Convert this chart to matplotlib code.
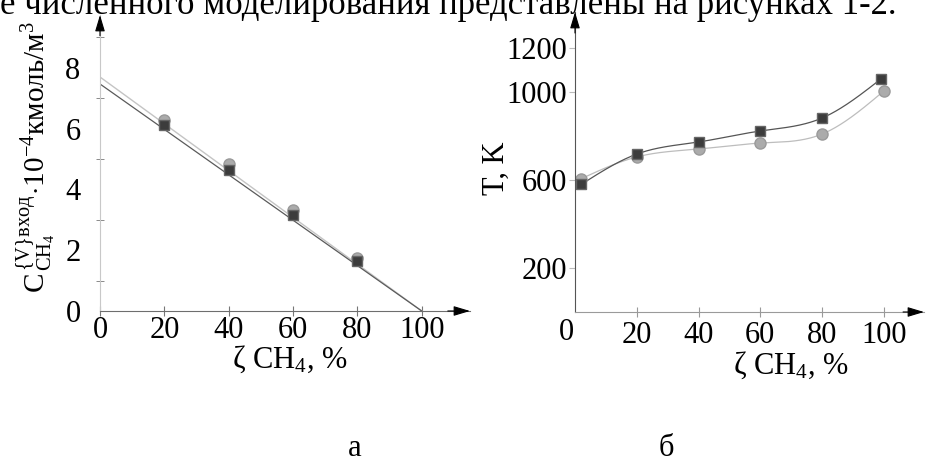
import numpy as np
import matplotlib
matplotlib.use('agg')
import matplotlib.pyplot as plt

plt.rcParams['font.family'] = ['Liberation Serif', 'DejaVu Serif']
plt.rcParams['mathtext.fontset'] = 'custom'
plt.rcParams['mathtext.rm'] = 'Liberation Serif'
plt.rcParams['mathtext.it'] = 'Liberation Serif:italic'
plt.rcParams['mathtext.bf'] = 'Liberation Serif:bold'

# panel a: inlet CH4 concentration vs CH4 share
conc_x = [20, 40, 60, 80]
conc_sq = [6.12, 4.64, 3.16, 1.64]
conc_ci = [6.30, 4.83, 3.32, 1.74]
fit_x = [0, 100]
fit_sq = [7.47, 0.0]
fit_ci = [7.70, 0.0]

# panel b: temperature vs CH4 share
temp_x_sq = [2, 20, 40, 60, 80, 99]
temp_sq = [580, 718, 773, 823, 882, 1059]
temp_x_ci = [2, 20, 40, 60, 80, 100]
temp_ci = [606, 705, 741, 768, 809, 1005]

DARK = '#3c3c3c'
LIGHT = '#ababab'
FS = 22


def natural_spline(x, y, n=300):
    # plain natural cubic spline, numpy only
    x = np.asarray(x, float)
    y = np.asarray(y, float)
    m = len(x)
    h = np.diff(x)
    A = np.zeros((m, m))
    b = np.zeros(m)
    A[0, 0] = A[-1, -1] = 1
    for i in range(1, m - 1):
        A[i, i - 1] = h[i - 1]
        A[i, i] = 2 * (h[i - 1] + h[i])
        A[i, i + 1] = h[i]
        b[i] = 6 * ((y[i + 1] - y[i]) / h[i] - (y[i] - y[i - 1]) / h[i - 1])
    M = np.linalg.solve(A, b)
    xs = np.linspace(x[0], x[-1], n)
    k = np.clip(np.searchsorted(x, xs) - 1, 0, m - 2)
    t1 = x[k + 1] - xs
    t0 = xs - x[k]
    hk = h[k]
    ys = (M[k] * t1 ** 3 + M[k + 1] * t0 ** 3) / (6 * hk) \
        + (y[k] / hk - M[k] * hk / 6) * t1 + (y[k + 1] / hk - M[k + 1] * hk / 6) * t0
    return xs, ys


def arrows(ax):
    kw = dict(arrowstyle='-|>,head_length=1.0,head_width=0.3', color='black',
              lw=0.8, shrinkA=0, shrinkB=0)
    ax.annotate('', xy=(0, 1), xytext=(0, 0.93), xycoords='axes fraction',
                arrowprops=kw, annotation_clip=False)
    ax.annotate('', xy=(1, 0), xytext=(0.94, 0), xycoords='axes fraction',
                arrowprops=kw, annotation_clip=False)


fig = plt.figure(figsize=(9.26, 4.62), dpi=100)
W, H = 926, 462

fig.text(0, 1 - 14 / H, 'е численного моделирования представлены на рисунках 1-2.',
         fontsize=25, ha='left', va='baseline')

# ---- panel a
ax1 = fig.add_axes([100 / W, 1 - 311 / H, 370 / W, 296 / H])
ax1.plot(fit_x, fit_ci, color='#c4c4c4', lw=1.0)
ax1.plot(fit_x, fit_sq, color='#5a5a5a', lw=0.9)
ax1.plot(conc_x, conc_ci, 'o', color=LIGHT, ms=8, mec='#9a9a9a')
ax1.plot(conc_x, conc_sq, 's', color=DARK, ms=6.5, mec='#666666')
ax1.set_xlim(0, 115)
ax1.set_ylim(0, 9.74)
ax1.set_xticks([0, 20, 40, 60, 80, 100])
ax1.set_yticks([0, 2, 4, 6, 8])
ax1.set_yticks([1, 3, 5, 7, 9], minor=True)
ax1.tick_params(axis='y', which='major', length=0, pad=14, labelsize=FS)
ax1.tick_params(axis='y', which='minor', direction='inout', length=6, color='#777777')
ax1.tick_params(axis='x', direction='inout', length=7, color='#777777', pad=0, labelsize=FS)
for s in ['top', 'right']:
    ax1.spines[s].set_visible(False)
ax1.spines['left'].set_color('#c8c8c8')
ax1.spines['bottom'].set_color('#6e6e6e')
ax1.set_ylabel(r'$\mathrm{C}^{\,\mathrm{\{V\}вход}}_{\,\mathrm{CH}_4}\!\cdot\!10^{-4}\mathrm{кмоль/м}^{3}$',
               fontsize=21)
ax1.yaxis.set_label_coords(-0.115, 0.52)
ax1.set_xlabel('ζ CH$_4$, %', fontsize=FS)
ax1.xaxis.set_label_coords(0.514, -0.11)
ax1.xaxis.label.set_va('top')
arrows(ax1)

# ---- panel b
ax2 = fig.add_axes([575 / W, 1 - 312 / H, 349 / W, 300 / H])
xs, ys = natural_spline(temp_x_ci, temp_ci)
ax2.plot(xs, ys, color='#bdbdbd', lw=0.9)
xs, ys = natural_spline(temp_x_sq, temp_sq)
ax2.plot(xs, ys, color='#555555', lw=0.9)
ax2.plot(temp_x_ci, temp_ci, 'o', color=LIGHT, ms=8, mec='#9a9a9a')
ax2.plot(temp_x_sq, temp_sq, 's', color=DARK, ms=6.5, mec='#666666')
ax2.set_xlim(0, 113)
ax2.set_ylim(0, 1364)
ax2.set_xticks([20, 40, 60, 80, 100])
ax2.set_yticks([200, 600, 1000, 1200])
ax2.tick_params(axis='y', direction='out', length=4, color='#bbbbbb', pad=2, labelsize=FS)
ax2.tick_params(axis='x', direction='inout', length=7, color='#999999', pad=3, labelsize=FS)
ax2.annotate('0', xy=(0, 0), xytext=(-6, -4), textcoords='offset points',
             ha='center', va='top', fontsize=FS)
for s in ['top', 'right']:
    ax2.spines[s].set_visible(False)
ax2.spines['left'].set_color('#555555')
ax2.spines['bottom'].set_color('#9a9a9a')
ax2.set_ylabel('T, K', fontsize=FS)
ax2.yaxis.set_label_coords(-0.185, 0.48)
ax2.set_xlabel('ζ CH$_4$, %', fontsize=FS)
ax2.xaxis.set_label_coords(0.62, -0.125)
ax2.xaxis.label.set_va('top')
arrows(ax2)

fig.text(355 / W, 1 - 449 / H, 'а', fontsize=FS, ha='center', va='center')
fig.text(666 / W, 1 - 449 / H, 'б', fontsize=FS, ha='center', va='center')

fig.savefig('out.png', dpi=100)
